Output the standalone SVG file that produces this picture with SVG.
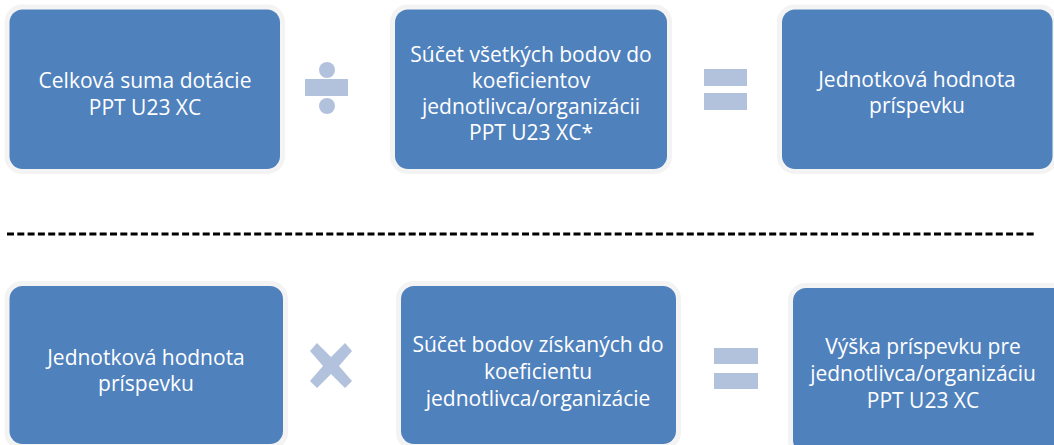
<svg xmlns="http://www.w3.org/2000/svg" width="1054" height="445" viewBox="0 0 1054 445">
<style>
.box{fill:#4F81BD;stroke:#F4F4F4;stroke-width:4;paint-order:stroke}
.halo{fill:none;stroke:#F3F3F3;stroke-width:5}
.t{font-family:"Open Sans","Liberation Sans",sans-serif;font-size:21px;font-weight:400;fill:#FFFFFF;text-anchor:middle}
.op{fill:#B3C2DC}
.sep{stroke:#000;stroke-width:3;stroke-dasharray:7 3.3;fill:none}
</style>
<rect width="1054" height="445" fill="#FFFFFF"/>
<g id="n1">
<rect class="halo" x="7" y="7" width="275.5" height="164.5" rx="15"/>
<rect class="box" x="9.5" y="9.5" width="270.5" height="159.5" rx="13"/>
<text class="t" x="145" y="88">Celková suma dotácie</text>
<text class="t" x="145" y="115">PPT U23 XC</text>
</g>
<g id="op1">
<circle class="op" cx="327" cy="70" r="8"/>
<rect class="op" x="305" y="79" width="43" height="17"/>
<circle class="op" cx="327" cy="106" r="8"/>
</g>
<g id="n2">
<rect class="halo" x="392.5" y="7" width="277" height="164.5" rx="15"/>
<rect class="box" x="395" y="9.5" width="272" height="159.5" rx="13"/>
<text class="t" x="531" y="62">Súčet všetkých bodov do</text>
<text class="t" x="531" y="88">koeficientov</text>
<text class="t" x="531" y="114">jednotlivca/organizácii</text>
<text class="t" x="531" y="140">PPT U23 XC*</text>
</g>
<g id="op2">
<rect class="op" x="704" y="69" width="43" height="17"/>
<rect class="op" x="704" y="93" width="43" height="17"/>
</g>
<g id="n3">
<rect class="halo" x="779.5" y="7" width="276" height="164.5" rx="15"/>
<rect class="box" x="782" y="9.5" width="270.5" height="159.5" rx="13"/>
<text class="t" x="917" y="87">Jednotková hodnota</text>
<text class="t" x="917" y="113">príspevku</text>
</g>
<g id="connectors">
<line class="sep" x1="7" y1="234" x2="1037" y2="234"/>
</g>
<g id="n4">
<rect class="halo" x="7" y="283.5" width="278.5" height="164" rx="15"/>
<rect class="box" x="9.5" y="286" width="273.5" height="158" rx="13"/>
<text class="t" x="146" y="365">Jednotková hodnota</text>
<text class="t" x="146" y="391">príspevku</text>
</g>
<g id="op3">
<path class="op" d="M310,351 L317,343 L331,357 L345,343 L352,351 L339,366 L352,381 L345,388 L331,374 L317,388 L310,381 L323,366 Z"/>
</g>
<g id="n5">
<rect class="halo" x="398.5" y="283.5" width="280" height="164" rx="15"/>
<rect class="box" x="401" y="286" width="275" height="158" rx="13"/>
<text class="t" x="538" y="352">Súčet bodov získaných do</text>
<text class="t" x="538" y="379">koeficientu</text>
<text class="t" x="538" y="406">jednotlivca/organizácie</text>
</g>
<g id="op4">
<rect class="op" x="714" y="348" width="44" height="16"/>
<rect class="op" x="714" y="373" width="44" height="16"/>
</g>
<g id="n6">
<rect class="halo" x="790.5" y="285.5" width="280" height="170" rx="15"/>
<rect class="box" x="793" y="288" width="275" height="165" rx="13"/>
<text class="t" x="923" y="354">Výška príspevku pre</text>
<text class="t" x="923" y="381">jednotlivca/organizáciu</text>
<text class="t" x="923" y="408">PPT U23 XC</text>
</g>
</svg>
